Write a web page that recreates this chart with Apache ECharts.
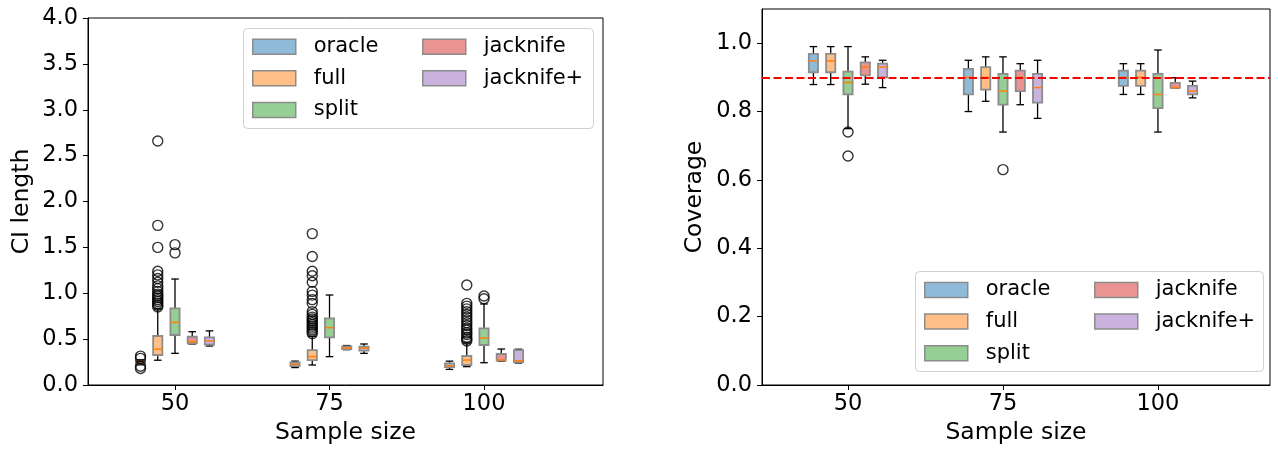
<!DOCTYPE html>
<html><head><meta charset="utf-8">
<script src="https://cdn.jsdelivr.net/npm/echarts@6/dist/echarts.min.js"></script>
<style>html,body{margin:0;padding:0;background:#fff}#c{width:1278px;height:452px}</style>
</head><body><div id="c"></div>
<script>
const groups = ['50', '75', '100'];
const methods = ['oracle', 'full', 'split', 'jacknife', 'jacknife+'];
const fills = ['#8fbbd9', '#ffbf86', '#95cf95', '#ea9393', '#c9b3de'];
const ciTicks = [0, 0.5, 1, 1.5, 2, 2.5, 3, 3.5, 4];
const covTicks = [0, 0.2, 0.4, 0.6, 0.8, 1.0];
const targetCoverage = 0.9;

// per group: [whiskerLow, q1, median, q3, whiskerHigh]
const ciOracle   = [[0.22, 0.235, 0.25, 0.26, 0.275], [0.19, 0.205, 0.225, 0.245, 0.26], [0.17, 0.195, 0.21, 0.235, 0.26]];
const ciFull     = [[0.27, 0.327, 0.39, 0.534, 0.83], [0.218, 0.272, 0.309, 0.381, 0.53], [0.2, 0.218, 0.272, 0.316, 0.46]];
const ciSplit    = [[0.345, 0.545, 0.683, 0.836, 1.155], [0.309, 0.52, 0.625, 0.727, 0.981], [0.243, 0.436, 0.512, 0.618, 0.883]];
const ciJack     = [[0.447, 0.454, 0.472, 0.526, 0.581], [0.385, 0.39, 0.405, 0.42, 0.43], [0.26, 0.265, 0.272, 0.338, 0.392]];
const ciJackPlus = [[0.425, 0.44, 0.48, 0.52, 0.59], [0.345, 0.374, 0.40, 0.417, 0.447], [0.24, 0.25, 0.265, 0.38, 0.39]];

const ciOracleOut   = [[0.315, 0.29, 0.205, 0.18], [], []];
const ciFullOut     = [[2.66, 1.74, 1.50, 1.24, 1.20, 1.16, 1.12, 1.08, 1.05, 1.02, 0.99, 0.97, 0.95, 0.93, 0.91, 0.89, 0.87, 0.85],
                       [1.65, 1.40, 1.24, 1.19, 1.12, 1.02, 0.98, 0.93, 0.89, 0.80, 0.77, 0.74, 0.72, 0.70, 0.68, 0.66, 0.64, 0.62, 0.60, 0.58, 0.56],
                       [1.09, 0.89, 0.86, 0.83, 0.80, 0.77, 0.74, 0.71, 0.68, 0.65, 0.62, 0.60, 0.57, 0.55, 0.52, 0.50, 0.48]];
const ciSplitOut    = [[1.53, 1.44], [], [0.97, 0.94]];
const ciJackOut     = [[], [], []];
const ciJackPlusOut = [[], [], []];

const covOracle   = [[0.879, 0.915, 0.948, 0.969, 0.99], [0.80, 0.85, 0.90, 0.925, 0.95], [0.85, 0.875, 0.90, 0.92, 0.94]];
const covFull     = [[0.879, 0.915, 0.948, 0.969, 0.99], [0.83, 0.864, 0.90, 0.93, 0.96], [0.85, 0.875, 0.90, 0.92, 0.94]];
const covSplit    = [[0.75, 0.85, 0.885, 0.917, 0.99], [0.74, 0.82, 0.86, 0.91, 0.96], [0.74, 0.81, 0.85, 0.91, 0.98]];
const covJack     = [[0.88, 0.906, 0.93, 0.944, 0.96], [0.82, 0.86, 0.90, 0.92, 0.94], [0.869, 0.869, 0.87, 0.884, 0.899]];
const covJackPlus = [[0.87, 0.90, 0.93, 0.94, 0.95], [0.78, 0.826, 0.87, 0.91, 0.95], [0.84, 0.85, 0.86, 0.875, 0.889]];

const covOracleOut   = [[], [], []];
const covFullOut     = [[], [], []];
const covSplitOut    = [[0.74, 0.67], [0.63], []];
const covJackOut     = [[], [], []];
const covJackPlusOut = [[], [], []];

const ciStats = [ciOracle, ciFull, ciSplit, ciJack, ciJackPlus];
const ciOuts = [ciOracleOut, ciFullOut, ciSplitOut, ciJackOut, ciJackPlusOut];
const covStats = [covOracle, covFull, covSplit, covJack, covJackPlus];
const covOuts = [covOracleOut, covFullOut, covSplitOut, covJackOut, covJackPlusOut];

const OFFSET = 0.1116;
const FONT = 'DejaVu Sans';
const TICK_FS = 22.5, NAME_FS = 23.5, LEG_FS = 21;

function boxRender(fill) {
  return function (params, api) {
    const x = api.value(0);
    const c = v => api.coord([x, v]);
    const cx = c(api.value(1))[0];
    const yWl = c(api.value(1))[1], yQ1 = c(api.value(2))[1], yMed = c(api.value(3))[1],
          yQ3 = c(api.value(4))[1], yWh = c(api.value(5))[1];
    const hw = 4.6, cw = 3.8;
    const ls = { stroke: '#000', lineWidth: 1.3 };
    return {
      type: 'group', children: [
        { type: 'line', shape: { x1: cx, y1: yQ1, x2: cx, y2: yWl }, style: ls },
        { type: 'line', shape: { x1: cx, y1: yQ3, x2: cx, y2: yWh }, style: ls },
        { type: 'line', shape: { x1: cx - cw, y1: yWl, x2: cx + cw, y2: yWl }, style: ls },
        { type: 'line', shape: { x1: cx - cw, y1: yWh, x2: cx + cw, y2: yWh }, style: ls },
        { type: 'rect', shape: { x: cx - hw, y: yQ3, width: 2 * hw, height: yQ1 - yQ3 },
          style: { fill: fill, stroke: '#8c8c8c', lineWidth: 1.8 } },
        { type: 'line', shape: { x1: cx - hw, y1: yMed, x2: cx + hw, y2: yMed },
          style: { stroke: '#ff7f0e', lineWidth: 1.5 } }
      ]
    };
  };
}

function buildSeries(stats, outs, gi) {
  const s = [];
  methods.forEach((m, k) => {
    const data = stats[k].map((st, g) => [g + 1 + (k - 2) * OFFSET].concat(st));
    s.push({
      name: m, type: 'custom', xAxisIndex: gi, yAxisIndex: gi,
      itemStyle: { color: fills[k], borderColor: '#8c8c8c', borderWidth: 1.5 },
      renderItem: boxRender(fills[k]),
      encode: { x: 0, y: [1, 2, 3, 4, 5] },
      data: data, silent: true, clip: true
    });
    const od = [];
    outs[k].forEach((arr, g) => arr.forEach(v => od.push([g + 1 + (k - 2) * OFFSET, v])));
    s.push({
      name: m + ' outliers', type: 'scatter', xAxisIndex: gi, yAxisIndex: gi,
      symbol: 'circle', symbolSize: 10, silent: true,
      itemStyle: { color: 'rgba(0,0,0,0)', borderColor: '#000', borderWidth: 1.4 },
      data: od, z: 3
    });
  });
  return s;
}

const axisCommon = {
  axisLine: { show: true, onZero: false, lineStyle: { color: '#000', width: 1 } },
  splitLine: { show: false },
  nameTextStyle: { fontSize: NAME_FS, color: '#000', fontFamily: FONT }
};

function xAxisFor(gi, min, max) {
  return Object.assign({}, axisCommon, {
    type: 'value', gridIndex: gi, min: min, max: max,
    axisTick: { show: true, customValues: [1, 2, 3], length: 5, lineStyle: { color: '#000' } },
    axisLabel: { customValues: [1, 2, 3], formatter: v => groups[Math.round(v) - 1],
                 fontSize: TICK_FS, color: '#000', fontFamily: FONT, margin: 8 },
    name: 'Sample size', nameLocation: 'middle', nameGap: 36
  });
}
function yAxisFor(gi, max, ticks, name, gap) {
  return Object.assign({}, axisCommon, {
    type: 'value', gridIndex: gi, min: 0, max: max,
    axisTick: { show: true, customValues: ticks, length: 5, lineStyle: { color: '#000' } },
    axisLabel: { customValues: ticks, formatter: v => v.toFixed(1),
                 fontSize: TICK_FS, color: '#000', fontFamily: FONT, margin: 10 },
    name: name, nameLocation: 'middle', nameGap: gap, nameRotate: 90
  });
}

function legendFor(data, left, top) {
  return {
    data: data, orient: 'vertical', left: left, top: top, padding: 0,
    itemWidth: 43, itemHeight: 15, itemGap: 10.6, icon: 'rect', selectedMode: false,
    itemStyle: { borderColor: '#8c8c8c', borderWidth: 1.5 },
    textStyle: { fontSize: LEG_FS, color: '#000', fontFamily: FONT, lineHeight: 21, padding: [0, 0, 0, 13] }
  };
}

const series = buildSeries(ciStats, ciOuts, 0).concat(buildSeries(covStats, covOuts, 1));
series.push({
  name: 'target', type: 'line', xAxisIndex: 1, yAxisIndex: 1, data: [], z: 5, silent: true,
  markLine: {
    silent: true, symbol: ['none', 'none'], label: { show: false },
    lineStyle: { color: '#ff0000', type: [8, 3.5], width: 2 },
    data: [{ yAxis: targetCoverage }]
  }
});

const chart = echarts.init(document.getElementById('c'), null, { renderer: 'canvas' });
chart.setOption({
  animation: false,
  backgroundColor: '#fff',
  textStyle: { fontFamily: FONT },
  grid: [
    { left: 88, top: 18, width: 515, height: 367, show: true, borderColor: '#000', borderWidth: 1, backgroundColor: 'transparent' },
    { left: 762, top: 9, width: 508, height: 376, show: true, borderColor: '#000', borderWidth: 1, backgroundColor: 'transparent' }
  ],
  xAxis: [xAxisFor(0, 0.437, 3.77), xAxisFor(1, 0.445, 3.723)],
  yAxis: [yAxisFor(0, 4, ciTicks, 'CI length', 54), yAxisFor(1, 1.1, covTicks, 'Coverage', 55)],
  legend: [
    legendFor(['oracle', 'full', 'split'], 252, 36.2),
    legendFor(['jacknife', 'jacknife+'], 422, 36.2),
    legendFor(['oracle', 'full', 'split'], 924, 279.5),
    legendFor(['jacknife', 'jacknife+'], 1094, 279.5)
  ],
  graphic: [
    { type: 'rect', left: 243, top: 28, shape: { width: 350, height: 100, r: 4 }, z: 3,
      style: { fill: 'rgba(255,255,255,0.8)', stroke: '#d0d0d0', lineWidth: 1 } },
    { type: 'rect', left: 915, top: 271, shape: { width: 348, height: 100, r: 4 }, z: 3,
      style: { fill: 'rgba(255,255,255,0.8)', stroke: '#d0d0d0', lineWidth: 1 } }
  ],
  series: series
});
</script>
</body></html>
